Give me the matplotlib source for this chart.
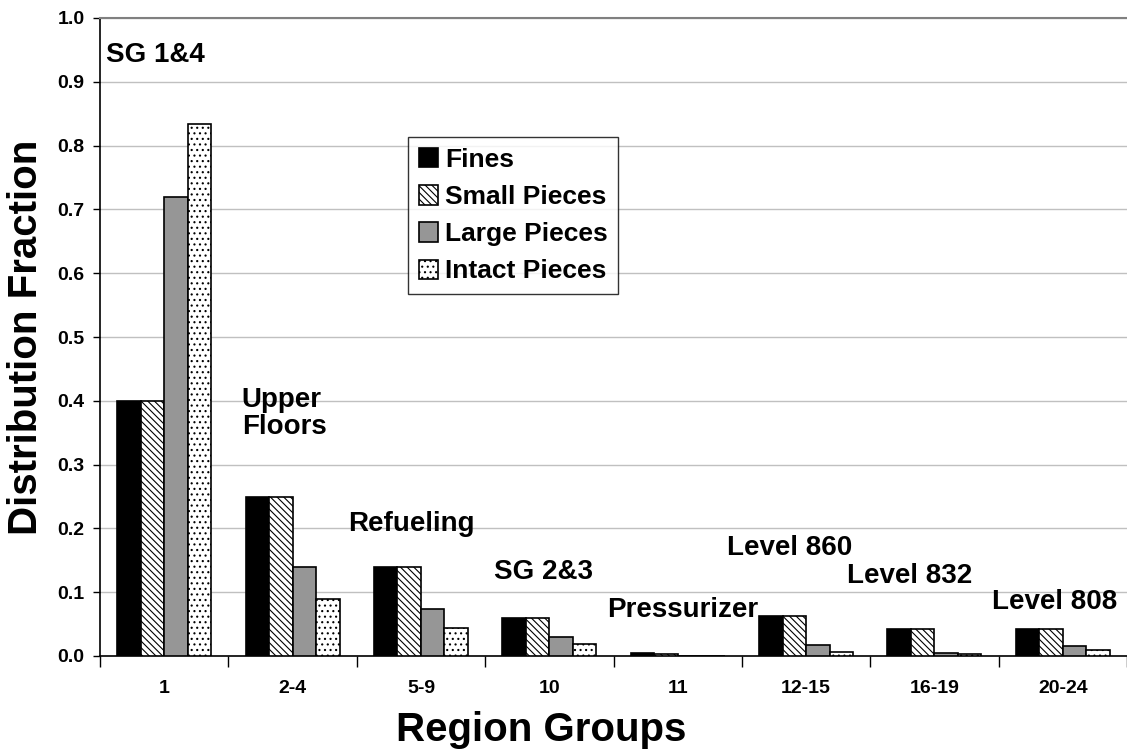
import matplotlib
matplotlib.use("Agg")
import matplotlib.pyplot as plt
import numpy as np

categories = ["1", "2-4", "5-9", "10", "11", "12-15", "16-19", "20-24"]
fines = [0.40, 0.25, 0.14, 0.06, 0.004, 0.063, 0.042, 0.042]
small = [0.40, 0.25, 0.14, 0.06, 0.003, 0.063, 0.042, 0.042]
large = [0.72, 0.14, 0.073, 0.03, 0.0, 0.017, 0.005, 0.015]
intact = [0.834, 0.09, 0.044, 0.019, 0.0, 0.007, 0.003, 0.009]
series_names = ["Fines", "Small Pieces", "Large Pieces", "Intact Pieces"]
yticks = [0.0, 0.1, 0.2, 0.3, 0.4, 0.5, 0.6, 0.7, 0.8, 0.9, 1.0]
annotations = [
    ("SG 1&4", -0.45, 0.942),
    ("Upper\nFloors", 0.604, 0.38),
    ("Refueling", 1.43, 0.207),
    ("SG 2&3", 2.566, 0.132),
    ("Pressurizer", 3.454, 0.072),
    ("Level 860", 4.388, 0.169),
    ("Level 832", 5.315, 0.125),
    ("Level 808", 6.45, 0.085),
]

plt.rcParams['font.family'] = ['Liberation Sans', 'DejaVu Sans']
plt.rcParams['font.weight'] = 'bold'
plt.rcParams['hatch.linewidth'] = 0.8
plt.rcParams['hatch.color'] = 'black'

fig = plt.figure(figsize=(11.27, 7.51), dpi=100)
ax = fig.add_axes([100/1127, 95/751, 1027/1127, 638/751])

x = np.arange(len(categories))
w = 0.183
styles = [
    dict(color="black", edgecolor="black", hatch=None),
    dict(color="white", edgecolor="black", hatch="\\\\\\\\\\"),
    dict(color="#969696", edgecolor="black", hatch=None),
    dict(color="white", edgecolor="black", hatch="..."),
]
data = [fines, small, large, intact]
for i, (vals, st, name) in enumerate(zip(data, styles, series_names)):
    ax.bar(x + (i - 1.5) * w, vals, width=w, color=st["color"], edgecolor=st["edgecolor"],
           hatch=st["hatch"], linewidth=1.2, label=name, zorder=3)

ax.set_ylim(0, 1.0)
ax.set_xlim(-0.5, -0.5 + 1027/129.5)
ax.set_yticks(yticks)
ax.set_yticklabels([f"{v:.1f}" for v in yticks], fontsize=14, fontweight='bold')
ax.set_xticks(x)
ax.set_xticklabels(categories, fontsize=14, fontweight='bold')
ax.set_xticks(np.arange(len(categories) + 1) - 0.5, minor=True)
ax.tick_params(axis='x', which='major', length=0, pad=17)
ax.tick_params(axis='x', which='minor', length=8, width=1, direction='out')
ax.tick_params(axis='y', which='major', length=5, width=1, direction='out', pad=6)

ax.yaxis.grid(True, color="#c0c0c0", linewidth=1, zorder=0)
ax.set_axisbelow(True)
ax.spines['right'].set_visible(False)
ax.spines['top'].set_color("#808080")
ax.spines['top'].set_linewidth(1.5)
ax.spines['left'].set_linewidth(1.2)
ax.spines['bottom'].set_linewidth(1.2)

for txt, tx, ty in annotations:
    ax.text(tx, ty, txt, fontsize=20, fontweight='bold', ha='left', va='center',
            linespacing=1.05, zorder=4)

leg = ax.legend(loc='upper left', bbox_to_anchor=(0.30, 0.813), fontsize=19,
                frameon=True, fancybox=False, edgecolor='black', handlelength=0.75,
                handleheight=0.75, handletextpad=0.25, borderpad=0.4, labelspacing=0.5,
                borderaxespad=0)
leg.get_frame().set_linewidth(1.0)
for t in leg.get_texts():
    t.set_fontweight('bold')

fig.text(541/1127, 1 - 730/751, "Region Groups", fontsize=29, fontweight='bold',
         ha='center', va='center')
fig.text(26/1127, 1 - 337/751, "Distribution Fraction", fontsize=29, fontweight='bold',
         ha='center', va='center', rotation=90)

fig.savefig("out.png", dpi=100)
